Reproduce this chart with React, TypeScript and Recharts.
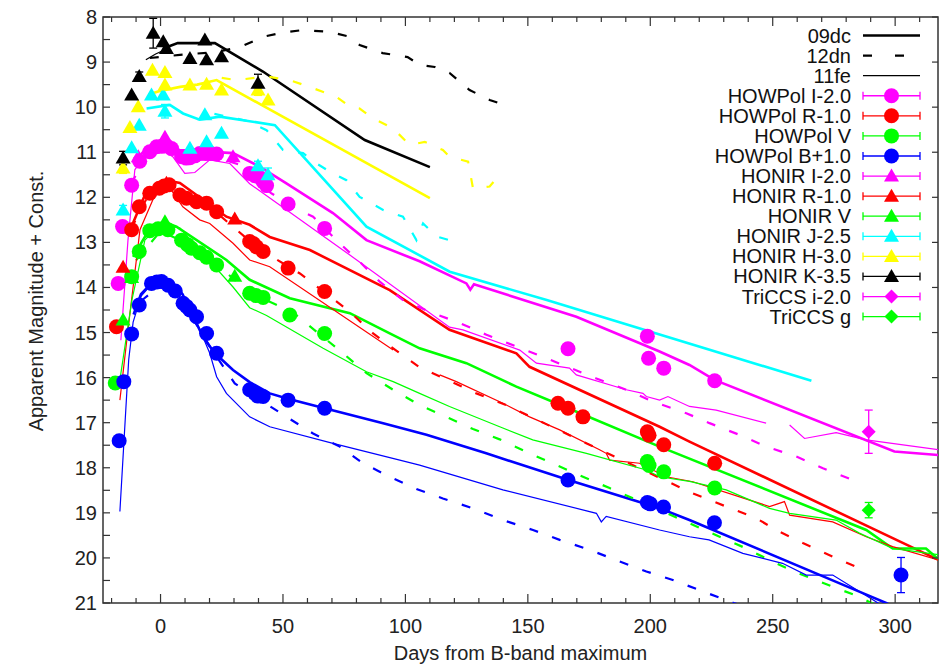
import React from "react";
import {
  ComposedChart,
  Line,
  Scatter,
  XAxis,
  YAxis,
  ErrorBar,
  ReferenceArea,
} from "recharts";

// [days from B max, magnitude + const, error]
type P = [number, number | null, number?];

// ---- observations ----
const howpolI: P[] = [
  [-17.3, 13.91], [-15.5, 12.65], [-11.8, 11.73], [-8.5, 11.2], [-4.4, 10.99], [-1.6, 10.88],
  [0.5, 10.87], [2.4, 10.86], [4.5, 10.92], [8.6, 11.1], [10.5, 11.13], [12, 11.12], [14, 11.08],
  [16, 11.03], [18.5, 11.03], [20.5, 11.03], [22.9, 11.04], [36.4, 11.47], [38.5, 11.52],
  [40.5, 11.56], [42, 11.66], [43.3, 11.74], [52.1, 12.15], [67, 12.69], [166.4, 15.36],
  [198.8, 15.08], [199.3, 15.57], [205.5, 15.79], [226.3, 16.07],
];
const howpolR: P[] = [
  [-18, 14.87], [-11.8, 12.72], [-8.7, 12.21], [-4.4, 11.91], [-0.5, 11.8], [1.5, 11.75],
  [3.5, 11.72], [7.9, 11.95], [10.6, 12.02], [14.7, 12.1], [18.8, 12.13], [22.9, 12.32],
  [36.4, 12.98], [38, 13.03], [39.2, 13.1], [41.9, 13.2], [52.1, 13.57], [67, 14.09],
  [162.3, 16.57], [166.4, 16.68], [172.5, 16.87], [198.8, 17.2], [199.5, 17.28],
  [205.5, 17.49], [226.3, 17.9],
];
const howpolV: P[] = [
  [-18.5, 16.12], [-11.8, 13.76], [-8.7, 13.2], [-4.4, 12.74], [-1, 12.7], [3, 12.72],
  [8.6, 12.95], [11, 13.05], [12.6, 13.13], [16, 13.23], [18.8, 13.33], [22.9, 13.5],
  [36.4, 14.13], [39, 14.18], [41.9, 14.22], [52.8, 14.61], [67, 15.02], [198.8, 17.86],
  [199.5, 17.95], [205.5, 18.09], [226.3, 18.45],
];
const howpolB: P[] = [
  [-16.9, 17.4], [-15, 16.09], [-11.8, 15.03], [-8.7, 14.39], [-3.7, 13.91], [-1.5, 13.88],
  [0.4, 13.87], [3.1, 13.95], [6, 14.08], [9.2, 14.35], [10.6, 14.42], [12, 14.5], [14.7, 14.65],
  [18.8, 15.02], [22.9, 15.46], [36.4, 16.27], [38.5, 16.35], [39.7, 16.41], [41.9, 16.42],
  [52.1, 16.5], [67, 16.68], [166.4, 18.27], [198.8, 18.77], [200, 18.8], [205.4, 18.87],
  [226.2, 19.22], [302.4, 20.38, 0.39],
];
const honirI: P[] = [[-9.1, 11.1], [1.8, 10.67], [29.6, 11.1]];
const honirR: P[] = [[-15.3, 13.55], [2.4, 11.69], [30.3, 12.48]];
const honirV: P[] = [[-15.3, 14.72], [-11.8, 13.78], [1.8, 12.54], [30.3, 13.75]];
const honirJ: P[] = [
  [-15.3, 12.28, 0.1], [-11.8, 10.9], [-8.7, 10.4], [-3.7, 9.73], [1.1, 9.73], [1.8, 10.09, 0.15],
  [12, 10.91], [18.1, 10.17], [18.8, 10.77], [24.9, 10.58], [39.8, 11.3, 0.1], [43.9, 11.5, 0.15],
];
const honirH: P[] = [
  [-15.3, 11.35, 0.12], [-12.5, 10.45], [-9.1, 9.99], [-3.3, 9.18], [1.8, 9.23], [1.8, 9.51],
  [12, 9.51], [18.8, 9.49], [24.9, 9.62], [39.8, 9.62, 0.12], [43.9, 9.84],
];
const honirK: P[] = [
  [-15.3, 11.13, 0.15], [-11.8, 9.73], [-8.7, 9.32, 0.1], [-3, 8.36, 0.33], [1.1, 8.55],
  [2.4, 8.7], [12, 8.92], [18.1, 8.51], [18.8, 8.95], [24.9, 8.88], [39.8, 9.47, 0.2],
];
const triccsI: P[] = [[289.2, 17.2, 0.48]];
const triccsG: P[] = [[289.2, 18.94, 0.17]];

// ---- SN 2009dc (thick solid) ----
const dc09K: P[] = [[3, 8.66], [7, 8.58], [22.2, 8.58], [41.8, 9.21], [83.4, 10.73], [110, 11.33]];
const dc09H: P[] = [[-5, 9.72], [-0.3, 9.64], [8, 9.55], [15, 9.5], [22.9, 9.4], [110, 12.02]];
const dc09J: P[] = [
  [-5.7, 10.03], [3.8, 9.95], [9.2, 10.14], [16, 10.28], [24.2, 10.21], [46.7, 10.4],
  [84.1, 12.65], [118.1, 13.65], [157.7, 14.28], [265.8, 16.07],
];
const dc09I: P[] = [
  [-11.2, 11.25], [-6.4, 10.95], [0, 10.88], [7.9, 10.95], [29.6, 11.02], [40.5, 11.32],
  [51.4, 11.69], [70.4, 12.35], [84.1, 12.95], [105.8, 13.42], [124.9, 13.91], [126.5, 14.05],
  [128, 13.93], [169.8, 14.65], [203.8, 15.42], [216, 15.72], [226.2, 16.05], [299.7, 17.64],
  [318, 17.72],
];
const dc09R: P[] = [
  [-12.1, 12.68], [-6.4, 11.95], [1.8, 11.62], [7.9, 11.68], [26.9, 12.43], [36.4, 12.61],
  [44.6, 12.88], [61, 13.17], [93.6, 14.06], [118, 14.94], [145.3, 15.46], [150.7, 15.76],
  [203.8, 17.09], [216, 17.42], [318, 20.05],
];
const dc09V: P[] = [
  [-11.2, 13.32], [-5, 12.75], [1.1, 12.54], [6.5, 12.65], [26.9, 13.39], [36.4, 13.83],
  [52.8, 14.24], [77.3, 14.57], [93.6, 15.02], [105.8, 15.35], [124.9, 15.68], [145.3, 16.2],
  [166.5, 16.68], [203.8, 17.53], [288.2, 19.38], [299, 19.79], [312.6, 19.79], [318, 20.05],
];
const dc09B: P[] = [
  [-11, 14.6], [-8, 14.15], [-4, 13.92], [0, 13.85], [5, 13.9], [9, 14.15], [12, 14.5],
  [17.4, 15.1], [22, 15.45], [29.6, 15.83], [36.4, 16.1], [44.6, 16.35], [52, 16.47],
  [67, 16.68], [90.9, 17.01], [108.6, 17.27], [133, 17.68], [166.6, 18.27], [203.8, 18.9],
  [216, 19.16], [286.8, 20.78], [296.3, 21.0], [300, 21.1],
];

// ---- SN 2012dn (dashed) ----
const dn12K: P[] = [
  [-4.4, 8.91], [7.9, 8.84], [22.2, 8.78], [32.4, 8.67], [41.8, 8.44], [49.5, 8.35], [58, 8.29],
  [69.1, 8.33], [77.3, 8.44], [81.3, 8.62], [90.7, 8.8], [100.9, 8.89], [105.8, 9.06],
  [112, 9.11], [118, 9.24], [126.2, 9.62], [134.4, 9.84], [137.7, 9.9], [140.5, 9.75],
];
const dn12H: P[] = [
  [25, 9.35], [31, 9.4], [43.3, 9.32], [52.8, 9.4], [62.3, 9.58], [71.8, 9.77], [77.3, 9.99],
  [81.3, 10.03], [86.8, 10.25], [94.9, 10.47], [101.8, 10.84], [107.9, 10.77], [115.3, 10.95],
  [118, 11.1], [125.6, 11.21], [127.6, 11.8], [134.4, 11.76], [137.8, 11.54],
];
const dn12J: P[] = [
  [22, 10.15], [35, 10.3], [43.3, 10.51], [50, 10.95], [58.2, 11.02], [63.7, 11.25],
  [69.1, 11.43], [75.9, 11.62], [81.3, 11.99], [90.9, 12.28], [99, 12.43], [104.5, 12.95],
  [107.2, 12.58], [112.7, 12.87], [118, 12.95],
];
const dn12I: P[] = [
  [-12, 11.7], [-5, 11.0], [2, 10.9], [12, 11.1], [22, 11.1], [33.7, 11.3], [45, 11.9],
  [55, 12.25], [62.3, 12.43], [71.8, 12.95], [81.3, 13.43], [89.5, 13.87], [99, 14.28],
  [109.9, 14.54], [122.2, 14.79], [133.1, 15.05], [145.3, 15.31], [156.2, 15.54], [178, 16.02],
  [190.2, 16.27], [201, 16.53], [214.7, 16.79], [224.2, 17.01], [236.4, 17.27], [247.3, 17.53],
  [259.6, 17.75], [270.5, 18.01], [282.7, 18.27], [286, 18.33],
];
const dn12R: P[] = [
  [-12, 12.7], [-5, 11.95], [2, 11.75], [12, 12.05], [22, 12.3], [36, 12.95], [45, 13.3],
  [56.9, 13.69], [77.3, 14.54], [86.8, 15.02], [95, 15.35], [105.8, 15.77], [129, 16.35],
  [141.2, 16.61], [172.5, 17.42], [217.4, 18.57], [231, 18.86], [243.3, 19.12], [251.4, 19.38],
  [262.3, 19.67], [274.5, 19.97], [285.4, 20.23], [288, 20.3],
];
const dn12V: P[] = [
  [-10, 13.4], [0, 12.75], [10, 13.0], [20, 13.35], [36, 14.1], [54, 14.55], [74.5, 15.46],
  [84.1, 15.9], [95, 16.27], [105.8, 16.61], [116.7, 16.87], [127.6, 17.14], [138.5, 17.37],
  [150.7, 17.68], [161.6, 17.94], [172.5, 18.2], [183.4, 18.45], [216, 19.23], [228.3, 19.53],
  [239.2, 19.79], [251.4, 20.12], [262.3, 20.38], [274.5, 20.64], [285.4, 20.86], [292, 21.05],
];
const dn12B: P[] = [
  [-8, 14.3], [0, 13.95], [10, 14.4], [20, 15.3], [30.3, 16.13], [51.4, 16.87], [62.3, 17.24],
  [73.2, 17.53], [82.7, 17.9], [93.6, 18.2], [104.5, 18.47], [115.3, 18.68], [127.6, 18.9],
  [139.8, 19.16], [152.1, 19.38], [163, 19.6], [175.2, 19.82], [186.1, 20.05], [198.4, 20.3],
  [209.2, 20.49], [234, 21.0], [240, 21.1],
];

// ---- SN 2011fe (thin solid) ----
const fe11K: P[] = [[-6, 8.95], [-2, 8.82], [2, 8.72]];
const fe11I: P[] = [
  [-16.2, 15.17], [-13.3, 12.95], [-10.5, 11.39], [-6.4, 11.06], [-0.3, 10.9], [5, 11.1],
  [9.9, 11.47], [14, 11.45], [20.1, 11.17], [28.3, 11.25], [36.4, 11.7], [77.3, 13.28],
  [118, 14.88], [123.5, 14.94], [146.7, 15.39], [153.5, 15.68], [167, 15.79], [169.8, 15.94],
  [190.2, 16.27], [197, 16.35], [198.4, 16.42], [203.8, 16.5], [207.2, 16.42], [216, 16.64],
  [226.9, 16.72], [247.3, 17.01], [252, null], [256.9, 17.05], [263, 17.35], [275.9, 17.22],
  [288.2, 17.38], [318, 17.6],
];
const fe11R: P[] = [
  [-16.6, 16.5], [-13.3, 14.94], [-8.4, 12.72], [-2.3, 11.95], [3.8, 11.79], [9.1, 12.21],
  [16, 12.5], [20.1, 12.58], [29.6, 13.02], [36.4, 13.39], [44.6, 13.54], [95, 15.39],
  [104, null], [114, 15.94], [120.8, 16.09], [139.8, 16.57], [150.7, 16.87], [163, 17.16],
  [179.3, 17.6], [182, 17.68], [183.4, 17.83], [195.6, 17.9], [206.5, 18.2], [217.4, 18.31],
  [248.7, 18.86], [254.8, 18.75], [256.9, 19.05], [274.5, 19.2], [288.2, 19.53], [299, 19.75],
  [318, 20.05],
];
const fe11V: P[] = [
  [-16.6, 16.05], [-11.7, 14.28], [-6.4, 12.95], [-0.3, 12.61], [7.9, 12.68], [16, 13.17],
  [29.6, 13.99], [36.4, 14.45], [43.3, 14.62], [66.4, 15.35], [84.1, 15.87], [95, 16.09],
  [105.8, 16.35], [118, 16.64], [138.5, 17.09], [152, 17.38], [173.9, 17.68], [198.4, 18.05],
  [203.8, 18.2], [216, 18.3], [231, 18.49], [248.7, 18.9], [256.9, 19.01], [275.9, 19.16],
  [285.4, 19.45], [299, 19.79], [318, 19.93],
];
const fe11B: P[] = [
  [-16.6, 18.97], [-13, 15.6], [-11.2, 14.77], [-8, 14.2], [-4, 13.95], [0, 13.9], [5, 14.0],
  [10, 14.4], [15, 14.8], [20.1, 15.46], [22.9, 15.98], [26.9, 16.35], [36.4, 16.87],
  [44.6, 17.09], [70.4, 17.46], [97.7, 17.83], [105.8, 17.94], [139.8, 18.49], [178, 19.01],
  [180, 19.2], [182, 19.08], [203.8, 19.38], [216, 19.53], [224, 19.6], [237.8, 19.9],
  [254, 20.12], [263.7, 20.38], [274.5, 20.38], [290.9, 20.93], [296, 21.1],
];

const xTicks = [-20, -10, 0, 10, 20, 30, 40, 50, 60, 70, 80, 90, 100, 110, 120, 130, 140, 150, 160, 170, 180, 190, 200, 210, 220, 230, 240, 250, 260, 270, 280, 290, 300, 310];
const yTicks = [8, 8.5, 9, 9.5, 10, 10.5, 11, 11.5, 12, 12.5, 13, 13.5, 14, 14.5, 15, 15.5, 16, 16.5, 17, 17.5, 18, 18.5, 19, 19.5, 20, 20.5, 21];

const MAG = "#ff00ff", RED = "#ff0000", GRN = "#00ff00", BLU = "#0000ff";
const CYN = "#00ffff", YEL = "#ffff00", BLK = "#000000";

const X_MIN = -23.5, X_MAX = 317.5;
const W = 940, H = 667;
const PLOT_TOP = 17, PLOT_RIGHT = 938;
const FONT = "'Liberation Sans', Arial, sans-serif";
const FS = 20;

const toPts = (a: P[]) => a.map(([x, y, e]) => ({ x, y, e: e ?? 0 }));

const lineStyles: Record<string, { w: number; dash?: string }> = {
  dc09: { w: 2.6 },
  dn12: { w: 2.2, dash: "9 15" },
  fe11: { w: 1.2 },
};

const models = [
  { d: dc09K, c: BLK, s: "dc09" }, { d: dc09H, c: YEL, s: "dc09" }, { d: dc09J, c: CYN, s: "dc09" },
  { d: dc09I, c: MAG, s: "dc09" }, { d: dc09R, c: RED, s: "dc09" }, { d: dc09V, c: GRN, s: "dc09" },
  { d: dc09B, c: BLU, s: "dc09" },
  { d: dn12K, c: BLK, s: "dn12" }, { d: dn12H, c: YEL, s: "dn12" }, { d: dn12J, c: CYN, s: "dn12" },
  { d: dn12I, c: MAG, s: "dn12" }, { d: dn12R, c: RED, s: "dn12" }, { d: dn12V, c: GRN, s: "dn12" },
  { d: dn12B, c: BLU, s: "dn12" },
  { d: fe11K, c: BLK, s: "fe11" }, { d: fe11I, c: MAG, s: "fe11" }, { d: fe11R, c: RED, s: "fe11" },
  { d: fe11V, c: GRN, s: "fe11" }, { d: fe11B, c: BLU, s: "fe11" },
];

const observations = [
  { name: "HOWPol I-2.0", d: howpolI, c: MAG, shape: "circle" },
  { name: "HOWPol R-1.0", d: howpolR, c: RED, shape: "circle" },
  { name: "HOWPol V", d: howpolV, c: GRN, shape: "circle" },
  { name: "HOWPol B+1.0", d: howpolB, c: BLU, shape: "circle" },
  { name: "HONIR I-2.0", d: honirI, c: MAG, shape: "triangle" },
  { name: "HONIR R-1.0", d: honirR, c: RED, shape: "triangle" },
  { name: "HONIR V", d: honirV, c: GRN, shape: "triangle" },
  { name: "HONIR J-2.5", d: honirJ, c: CYN, shape: "triangle" },
  { name: "HONIR H-3.0", d: honirH, c: YEL, shape: "triangle" },
  { name: "HONIR K-3.5", d: honirK, c: BLK, shape: "triangle" },
  { name: "TriCCS i-2.0", d: triccsI, c: MAG, shape: "diamond" },
  { name: "TriCCS g", d: triccsG, c: GRN, shape: "diamond" },
];

const legendModels = [
  { name: "09dc", s: "dc09" },
  { name: "12dn", s: "dn12" },
  { name: "11fe", s: "fe11" },
];

function Marker({ cx, cy, shape, color }: { cx: number; cy: number; shape: string; color: string }) {
  if (shape === "circle") return <circle cx={cx} cy={cy} r={7.5} fill={color} />;
  if (shape === "triangle")
    return <polygon points={`${cx},${cy - 7.5} ${cx + 7.5},${cy + 5.5} ${cx - 7.5},${cy + 5.5}`} fill={color} />;
  return <polygon points={`${cx},${cy - 7} ${cx + 7},${cy} ${cx},${cy + 7} ${cx - 7},${cy}`} fill={color} />;
}

function XTick({ x, y, payload }: any) {
  const v = payload.value;
  const major = v % 50 === 0;
  const len = major ? 9 : 5;
  return (
    <g>
      <line x1={x} x2={x} y1={y} y2={y - len} stroke="#333" strokeWidth={1.2} />
      <line x1={x} x2={x} y1={PLOT_TOP} y2={PLOT_TOP + len} stroke="#333" strokeWidth={1.2} />
      {major && (
        <text x={x} y={y + 30} textAnchor="middle" fontSize={FS} fill="#222" fontFamily={FONT}>
          {v}
        </text>
      )}
    </g>
  );
}

function YTick({ x, y, payload }: any) {
  const v = payload.value;
  const major = Number.isInteger(v);
  return (
    <g>
      <line x1={x} x2={x + 7} y1={y} y2={y} stroke="#333" strokeWidth={1.2} />
      {major && <line x1={PLOT_RIGHT - 6} x2={PLOT_RIGHT} y1={y} y2={y} stroke="#333" strokeWidth={1.2} />}
      {major && (
        <text x={x - 6} y={y} dy="0.35em" textAnchor="end" fontSize={FS} fill="#222" fontFamily={FONT}>
          {v}
        </text>
      )}
    </g>
  );
}

function Legend() {
  const rowY = (i: number) => 35.5 + i * 20.08;
  const tx = 851, x1 = 863, x2 = 920, mx = 891.5;
  return (
    <svg width={W} height={H} style={{ position: "absolute", left: 0, top: 0, pointerEvents: "none" }}>
      {legendModels.map((m, i) => {
        const st = lineStyles[m.s];
        return (
          <g key={m.name}>
            <text x={tx} y={rowY(i)} dy="0.35em" textAnchor="end" fontSize={FS} fill="#111" fontFamily={FONT}>
              {m.name}
            </text>
            <line x1={x1} x2={x2} y1={rowY(i)} y2={rowY(i)} stroke="#000" strokeWidth={st.w}
              strokeDasharray={m.s === "dn12" ? "9 23" : undefined} />
          </g>
        );
      })}
      {observations.map((o, j) => {
        const y = rowY(j + 3);
        return (
          <g key={o.name}>
            <text x={tx} y={y} dy="0.35em" textAnchor="end" fontSize={FS} fill="#111" fontFamily={FONT}>
              {o.name}
            </text>
            <line x1={x1} x2={x2} y1={y} y2={y} stroke={o.c} strokeWidth={1.3} />
            <line x1={x1} x2={x1} y1={y - 4} y2={y + 4} stroke={o.c} strokeWidth={1.3} />
            <line x1={x2} x2={x2} y1={y - 4} y2={y + 4} stroke={o.c} strokeWidth={1.3} />
            <Marker cx={mx} cy={y} shape={o.shape} color={o.c} />
          </g>
        );
      })}
    </svg>
  );
}

export default function App() {
  return (
    <div style={{ position: "absolute", left: 0, top: 0, width: W, height: H, background: "#fff" }}>
      <ComposedChart width={W} height={H} margin={{ top: PLOT_TOP, right: W - PLOT_RIGHT, left: 0, bottom: 0 }}
        style={{ fontFamily: FONT }}>
        <XAxis dataKey="x" type="number" domain={[X_MIN, X_MAX]} ticks={xTicks} interval={0}
          allowDataOverflow height={64} axisLine={false} tickLine={false} tickSize={0} tickMargin={0}
          tick={<XTick />}
          label={(p: any) => {
            const vb = p.viewBox;
            return (
              <text x={vb.x + vb.width / 2} y={vb.y + 57} textAnchor="middle" fontSize={FS} fill="#222" fontFamily={FONT}>
                Days from B-band maximum
              </text>
            );
          }} />
        <YAxis dataKey="y" type="number" domain={[8, 21]} reversed ticks={yTicks} interval={0}
          allowDataOverflow width={103} axisLine={false} tickLine={false} tickSize={0} tickMargin={0}
          tick={<YTick />}
          label={(p: any) => {
            const vb = p.viewBox;
            const cx = vb.x + 36, cy = vb.y + vb.height / 2 - 9;
            return (
              <text x={cx} y={cy} transform={`rotate(-90 ${cx} ${cy})`} textAnchor="middle" dy="0.35em"
                fontSize={FS} fill="#222" fontFamily={FONT}>
                Apparent Magnitude + Const.
              </text>
            );
          }} />
        {models.map((m, i) => (
          <Line key={"m" + i} data={toPts(m.d)} dataKey="y" type="linear" stroke={m.c}
            strokeWidth={lineStyles[m.s].w} strokeDasharray={lineStyles[m.s].dash}
            dot={false} activeDot={false} connectNulls={false} isAnimationActive={false} />
        ))}
        {observations.map((o) => (
          <Scatter key={o.name} name={o.name} data={toPts(o.d)} fill={o.c} isAnimationActive={false}
            shape={(p: any) => <Marker cx={p.cx} cy={p.cy} shape={o.shape} color={o.c} />}>
            {o.d.some((r) => (r[2] ?? 0) > 0) && (
              <ErrorBar dataKey="e" direction="y" width={4} stroke={o.c} strokeWidth={1.3} />
            )}
          </Scatter>
        ))}
        <ReferenceArea x1={X_MIN} x2={X_MAX} y1={8} y2={21} fill="none" fillOpacity={0}
          stroke="#333" strokeWidth={1.5} ifOverflow="visible" />
      </ComposedChart>
      <Legend />
    </div>
  );
}
